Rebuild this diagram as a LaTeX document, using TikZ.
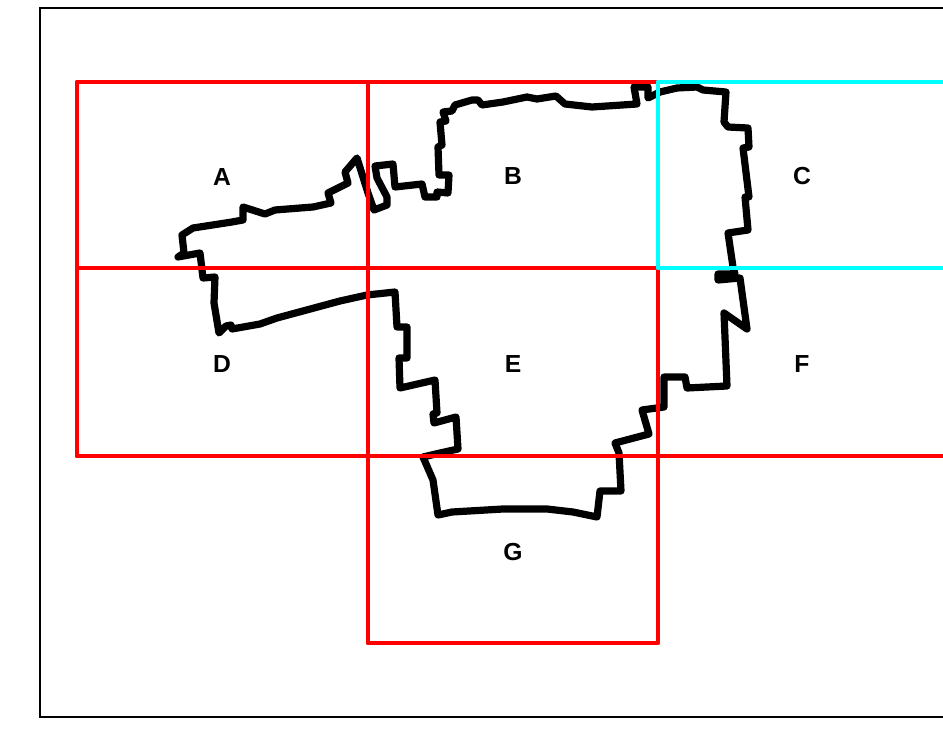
\documentclass[tikz,border=0pt]{standalone}
\usepackage{fontspec}
\setmainfont{Liberation Sans}
\tikzset{
  px/.style={x=0.75pt,y=-0.75pt},
  framebox/.style={draw=black,line width=1.5pt},
  redgrid/.style={draw=red,line width=3.7pt,line join=round,line cap=round},
  cyanbox/.style={draw=cyan,line width=3.7pt,line join=round,line cap=round},
  outline/.style={draw=black,line width=5.4pt,line join=round,line cap=round},
  lab/.style={font=\fontsize{18.5pt}{20pt}\selectfont\bfseries,text=black,inner sep=0pt}
}
\definecolor{cyan}{rgb}{0,1,1}
\begin{document}
\begin{tikzpicture}[px]
\useasboundingbox (0,0) rectangle (943,734);
\clip (0,0) rectangle (943,734);
\draw[framebox] (40,8) rectangle (960,717);
\draw[outline] (178,257) -- (200,253) -- (203,278) -- (215,277) -- (214,303) -- (219,333)
  -- (226,326) -- (231,325) -- (232,329) -- (260,324) -- (277,318) -- (340,301) -- (367,295) -- (395,292)
  -- (397,327) -- (407,327) -- (407,358) -- (399,358) -- (400,388) -- (435,380) -- (437,413)
  -- (433,414) -- (434,423) -- (456,417) -- (458,449) -- (440,453) -- (423,457) -- (433,480)
  -- (438,515) -- (452,512) -- (503,509) -- (547,509) -- (573,512) -- (597,517) -- (600,491)
  -- (621,491) -- (619,453) -- (615,443) -- (649,434) -- (642,410) -- (664,407) -- (664,377)
  -- (685,377) -- (687,388) -- (727,386) -- (724,313) -- (747,329) -- (743,300) -- (740,278) -- (718,280)
  -- (718,274) -- (735,274) -- (733,267) -- (728,233) -- (748,230) -- (745,197) -- (749,197)
  -- (743,148) -- (749,147) -- (748,128) -- (728,127) -- (724,122) -- (726,92) -- (703,90)
  -- (697,87) -- (677,88) -- (660,92) -- (648,98) -- (648,87) -- (634,87) -- (637,104)
  -- (592,107) -- (583,106) -- (565,104) -- (556,96) -- (537,99) -- (527,97) -- (503,102)
  -- (482,105) -- (478,100) -- (472,100) -- (455,105) -- (452,111) -- (443,112) -- (446,121)
  -- (440,122) -- (442,145) -- (438,147) -- (439,175) -- (449,175) -- (448,193) -- (437,192)
  -- (437,197) -- (425,197) -- (422,184) -- (395,187) -- (393,164) -- (375,166) -- (377,178)
  -- (387,197) -- (387,205) -- (374,210) -- (368,193) -- (357,158) -- (345,172) -- (348,183)
  -- (328,193) -- (331,203) -- (313,207) -- (275,210) -- (265,214) -- (243,207) -- (243,220)
  -- (232,222) -- (193,228) -- (182,235) -- (184,253) -- (178,257);
\draw[redgrid] (77,82) rectangle (368,268);
\draw[redgrid] (368,82) rectangle (658,268);
\draw[redgrid] (77,268) rectangle (368,456);
\draw[redgrid] (368,268) rectangle (658,456);
\draw[redgrid] (658,268) rectangle (960,456);
\draw[redgrid] (368,456) rectangle (658,643);
\draw[cyanbox] (658,82) rectangle (960,268);
\node[lab] (a) at (222,177) {A};
\node[lab] (b) at (513,176) {B};
\node[lab] (c) at (802,176) {C};
\node[lab] (d) at (222,364) {D};
\node[lab] (e) at (513,364) {E};
\node[lab] (f) at (802,364) {F};
\node[lab] (g) at (513,552) {G};
\end{tikzpicture}
\end{document}
